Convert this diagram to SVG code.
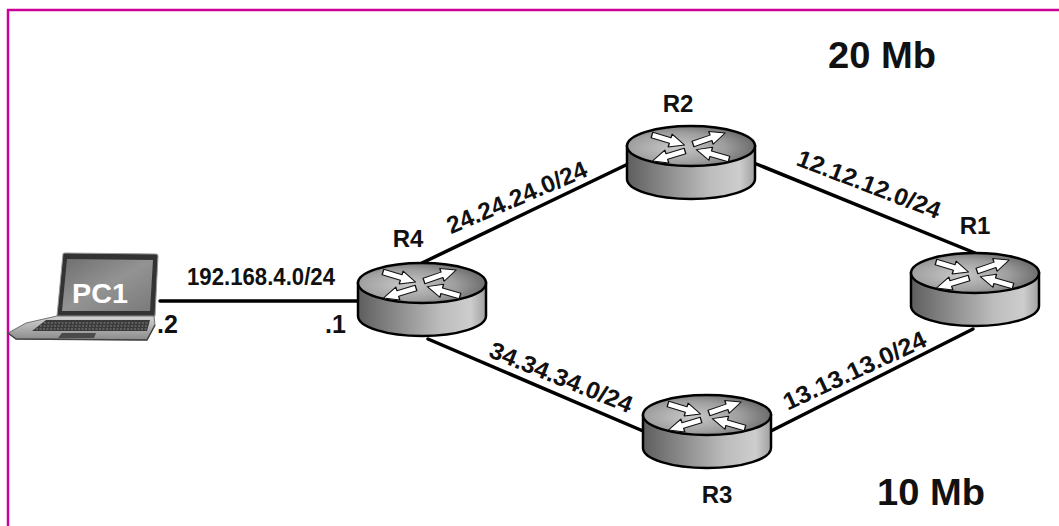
<svg xmlns="http://www.w3.org/2000/svg" xmlns:xlink="http://www.w3.org/1999/xlink" width="1059" height="526" viewBox="0 0 1059 526">
<style>
.lbl{font-family:"Liberation Sans","Open Sans",Arial,sans-serif;font-weight:bold;fill:#111;}
.rl{font-size:24px;text-anchor:middle;}
.net{font-size:24px;text-anchor:middle;}
.big{font-size:37px;}
.link{stroke:#000;stroke-width:3.5;fill:none;stroke-linecap:round;}
.arr{fill:#fff;stroke:#111;stroke-width:1.3;stroke-linejoin:round;}
.rim{stroke:#000;stroke-width:2.5;}
</style>
<defs>
<linearGradient id="side" x1="0" y1="0" x2="1" y2="0">
<stop offset="0" stop-color="#5e5e5e"/>
<stop offset="0.2" stop-color="#7c7c7c"/>
<stop offset="0.65" stop-color="#bdbdbd"/>
<stop offset="0.88" stop-color="#cdcdcd"/>
<stop offset="1" stop-color="#a0a0a0"/>
</linearGradient>
<radialGradient id="top" cx="0.38" cy="0.55" r="0.7">
<stop offset="0" stop-color="#c8c8c8"/>
<stop offset="0.55" stop-color="#9e9e9e"/>
<stop offset="1" stop-color="#5c5c5c"/>
</radialGradient>
<linearGradient id="scr" x1="0" y1="0" x2="1" y2="1">
<stop offset="0" stop-color="#6f6f6f"/>
<stop offset="0.5" stop-color="#939393"/>
<stop offset="1" stop-color="#7a7a7a"/>
</linearGradient>
<linearGradient id="base" x1="0" y1="0" x2="0" y2="1">
<stop offset="0" stop-color="#d4d4d4"/>
<stop offset="1" stop-color="#8a8a8a"/>
</linearGradient>
<path id="ar" class="arr" d="M0 -3.8 L19 -3.8 L19 -9 L34 0 L19 9 L19 3.8 L0 3.8 Z"/>
<g id="router">
<path class="rim" fill="url(#side)" d="M-64 0 L-64 33 A64 20 0 0 0 64 33 L64 0 Z"/>
<ellipse class="rim" fill="url(#top)" cx="0" cy="0" rx="64" ry="20"/>
<use xlink:href="#ar" href="#ar" transform="translate(-39,-11) rotate(17) scale(1,0.75)"/>
<use xlink:href="#ar" href="#ar" transform="translate(2,-2) rotate(-19) scale(1,0.75)"/>
<use xlink:href="#ar" href="#ar" transform="translate(-6,5) rotate(163) scale(1,0.75)"/>
<use xlink:href="#ar" href="#ar" transform="translate(38,13) rotate(196) scale(1,0.75)"/>
</g>
</defs>

<rect width="1059" height="526" fill="#fff"/>
<path d="M8 526 L8 10 L1059 10" fill="none" stroke="#cc0099" stroke-width="2.5"/>

<g id="connectors">
<line class="link" x1="160" y1="301" x2="360" y2="301"/>
<line class="link" x1="422" y1="263" x2="628" y2="164"/>
<line class="link" x1="754" y1="163" x2="975" y2="253"/>
<line class="link" x1="428" y1="339" x2="643" y2="431"/>
<line class="link" x1="771" y1="431" x2="973" y2="329"/>
</g>

<g id="link-labels">
<text class="lbl" x="187" y="285" font-size="23" textLength="148" lengthAdjust="spacingAndGlyphs">192.168.4.0/24</text>
<text class="lbl" x="157" y="333" font-size="25">.2</text>
<text class="lbl" x="325" y="333" font-size="25">.1</text>
<text class="lbl net" transform="translate(520,205) rotate(-23)" textLength="150" lengthAdjust="spacingAndGlyphs">24.24.24.0/24</text>
<text class="lbl net" transform="translate(866,192) rotate(21)" textLength="152" lengthAdjust="spacingAndGlyphs">12.12.12.0/24</text>
<text class="lbl net" transform="translate(558,385) rotate(22)" textLength="152" lengthAdjust="spacingAndGlyphs">34.34.34.0/24</text>
<text class="lbl net" transform="translate(858,378) rotate(-25)" textLength="155" lengthAdjust="spacingAndGlyphs">13.13.13.0/24</text>
</g>

<g id="PC1">
<path d="M63 254 Q63 253 65 253 L156 254 Q158 254 158 256 L155 316 L57 316 Z" fill="#333" stroke="#9a9a9a" stroke-width="1"/>
<path d="M67 259 L153 260 L150 311 L62 311 Z" fill="url(#scr)"/>
<path d="M57 316 L154 316 L155 325 L147 340 L16 339 L8 333 L26 323 Z" fill="url(#base)" stroke="#555" stroke-width="0.8"/>
<path d="M46 320 L150 320 L147 331 L32 331 Z" fill="#3a3a3a"/>
<path d="M44 323 L149 323 M40 326 L148 326 M36 329 L147 329" stroke="#8d8d8d" stroke-width="0.9" stroke-dasharray="2 1.5" fill="none"/>
<path d="M62 333 L96 333 L94 338 L58 338 Z" fill="#4a4a4a"/>
<path d="M8 333 L16 339 L147 340 L155 325" fill="none" stroke="#444" stroke-width="1.5"/>
<text x="100" y="303" font-family="Liberation Sans, Open Sans, sans-serif" font-weight="bold" font-size="28" fill="#fff" text-anchor="middle" textLength="56" lengthAdjust="spacingAndGlyphs">PC1</text>
</g>

<g id="R4">
<use xlink:href="#router" href="#router" transform="translate(422,283)"/>
<text class="lbl rl" x="408" y="247">R4</text>
</g>
<g id="R2">
<use xlink:href="#router" href="#router" transform="translate(691,146)"/>
<text class="lbl rl" x="678" y="112">R2</text>
</g>
<g id="R1">
<use xlink:href="#router" href="#router" transform="translate(975,273)"/>
<text class="lbl rl" x="975" y="234">R1</text>
</g>
<g id="R3">
<use xlink:href="#router" href="#router" transform="translate(707,415)"/>
<text class="lbl rl" x="717" y="503">R3</text>
</g>

<g id="bandwidth">
<text class="lbl big" x="828" y="68" textLength="108" lengthAdjust="spacingAndGlyphs">20 Mb</text>
<text class="lbl big" x="877" y="505" textLength="108" lengthAdjust="spacingAndGlyphs">10 Mb</text>
</g>
</svg>
